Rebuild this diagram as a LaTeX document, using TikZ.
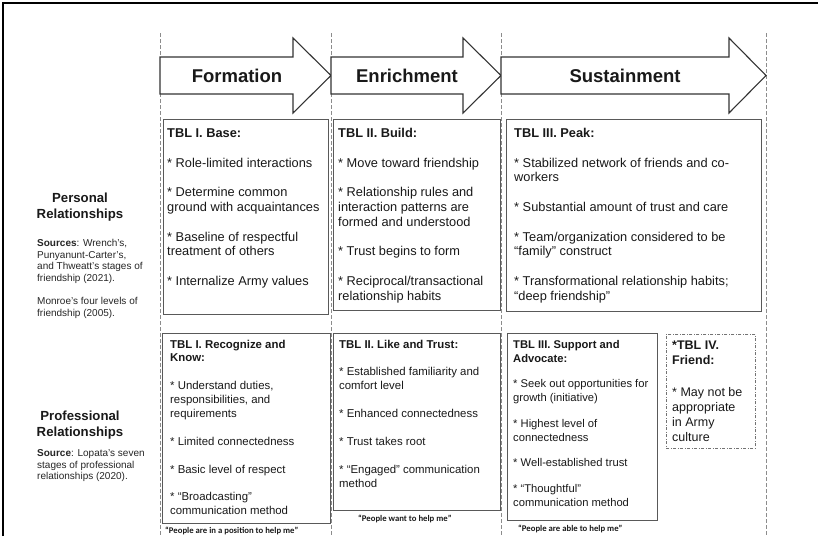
\documentclass[tikz,border=0pt]{standalone}
\usepackage{fontspec}
\setmainfont{Liberation Sans}
\newfontfamily\capfont{Carlito}
% line pitch of the two rows of panels
\newcommand\perskip{14.8pt}
\newcommand\proskip{13.9pt}
\newcommand\paneltext[2]{\parbox[t]{#1}{\raggedright #2}}
\begin{document}
\begin{tikzpicture}[x=1pt,y=-1pt,
  frame/.style={line width=2.4pt, black},
  guide/.style={draw=black!45, dash pattern=on 4pt off 2pt, line width=0.8pt},
  phase/.style={draw=black!80, line width=1.1pt, fill=white, line join=miter},
  phasetitle/.style={font=\fontsize{18.5}{20}\selectfont\bfseries, text=black!90, inner sep=0pt},
  panel/.style={draw=black!65, line width=1.1pt, inner sep=0pt, anchor=north west},
  friendpanel/.style={draw=black!55, line width=0.8pt, dash pattern=on 3pt off 1.5pt on 1pt off 1.5pt, inner sep=0pt, anchor=north west},
  pers/.style={anchor=base west, inner sep=0pt, text=black!90, font=\fontsize{12.8}{14.8}\selectfont},
  prof/.style={anchor=base west, inner sep=0pt, text=black!90, font=\fontsize{11.4}{13.9}\selectfont},
  rowtitle/.style={anchor=base, inner sep=0pt, text=black!90, font=\fontsize{13.2}{16}\selectfont\bfseries},
  source/.style={anchor=base west, inner sep=0pt, text=black!85, font=\fontsize{10}{11.6}\selectfont},
  saying/.style={anchor=base west, inner sep=0pt, text=black!90, font=\capfont\bfseries\fontsize{8.7}{10}\selectfont}]
\useasboundingbox (0,0) rectangle (818,536);
\fill[white] (0,0) rectangle (818,536);

% outer frame (top and left edges)
\draw[frame] (3.2,536) -- (3.2,3.2) -- (818,3.2);

% phase boundaries
\foreach \gx in {160,331,501,766}
  \draw[guide] (\gx,33) -- (\gx,536);

% phase arrows
\draw[phase] (160,57) -- (293,57) -- (293,38) -- (331,75.5) -- (293,113) -- (293,94) -- (160,94) -- cycle;
\draw[phase] (331,57) -- (463,57) -- (463,38) -- (501,75.5) -- (463,113) -- (463,94) -- (331,94) -- cycle;
\draw[phase] (501,57) -- (729,57) -- (729,38) -- (766,75.5) -- (729,113) -- (729,94) -- (501,94) -- cycle;
\node[phasetitle] (formation) at (237,76) {Formation};
\node[phasetitle] (enrichment) at (407,76) {Enrichment};
\node[phasetitle] (sustainment) at (625,76) {Sustainment};

% personal relationships row
\node[panel, minimum width=165pt, minimum height=195pt] (p1) at (163,119) {};
\node[panel, minimum width=167pt, minimum height=191pt] (p2) at (333,119) {};
\node[panel, minimum width=255pt, minimum height=192pt] (p3) at (506,119) {};

\node[pers] (p1text) at (167,137.5) {\paneltext{160pt}{\textbf{TBL I. Base:}\\[\perskip]
* Role-limited interactions\\[\perskip]
* Determine common\\ground with acquaintances\\[\perskip]
* Baseline of respectful\\treatment of others\\[\perskip]
* Internalize Army values}};

\node[pers] (p2text) at (338,137.5) {\paneltext{160pt}{\textbf{TBL II. Build:}\\[\perskip]
* Move toward friendship\\[\perskip]
* Relationship rules and\\interaction patterns are\\formed and understood\\[\perskip]
* Trust begins to form\\[\perskip]
* Reciprocal/transactional\\relationship habits}};

\node[pers] (p3text) at (514,137.5) {\paneltext{245pt}{\textbf{TBL III. Peak:}\\[\perskip]
* Stabilized network of friends and co-\\workers\\[\perskip]
* Substantial amount of trust and care\\[\perskip]
* Team/organization considered to be\\“family” construct\\[\perskip]
* Transformational relationship habits;\\“deep friendship”}};

\node[rowtitle] (perstitle) at (80,202.5) {\parbox[t]{120pt}{\centering Personal\\Relationships}};
\node[source] (perssource) at (37,246.5) {\paneltext{130pt}{\textbf{Sources}: Wrench’s,\\Punyanunt-Carter’s,\\and Thweatt’s stages of\\friendship (2021).\\[11.6pt]
Monroe’s four levels of\\friendship (2005).}};

% professional relationships row
\node[panel, minimum width=168pt, minimum height=190pt] (q1) at (162,333) {};
\node[panel, minimum width=167pt, minimum height=177pt] (q2) at (333,333) {};
\node[panel, minimum width=150pt, minimum height=187pt] (q3) at (507,333) {};
\node[friendpanel, minimum width=89pt, minimum height=114pt] (q4) at (666,334) {};

\node[prof] (q1text) at (170,348) {\paneltext{160pt}{\textbf{TBL I. Recognize and}\\\textbf{Know:}\\[\proskip]
* Understand duties,\\responsibilities, and\\requirements\\[\proskip]
* Limited connectedness\\[\proskip]
* Basic level of respect\\[\proskip]
* “Broadcasting”\\communication method}};

\node[prof] (q2text) at (339,348) {\paneltext{160pt}{\textbf{TBL II. Like and Trust:}\\[\proskip]
* Established familiarity and\\comfort level\\[\proskip]
* Enhanced connectedness\\[\proskip]
* Trust takes root\\[\proskip]
* “Engaged” communication\\method}};

\node[prof, font=\fontsize{11.2}{14}\selectfont] (q3text) at (513,348) {\paneltext{145pt}{\textbf{TBL III. Support and}\\\textbf{Advocate:}\\[11.5pt]
* Seek out opportunities for\\growth (initiative)\\[11.5pt]
* Highest level of\\connectedness\\[11.5pt]
* Well-established trust\\[11.5pt]
* “Thoughtful”\\communication method}};

\node[pers, font=\fontsize{12.5}{15}\selectfont] (q4text) at (672,349.5) {\paneltext{80pt}{\textbf{*TBL IV.}\\\textbf{Friend:}\\[17pt]
* May not be\\appropriate\\in Army\\culture}};

\node[rowtitle] (proftitle) at (80,420.5) {\parbox[t]{120pt}{\centering Professional\\Relationships}};
\node[source] (profsource) at (37,456.5) {\paneltext{130pt}{\textbf{Source}: Lopata’s seven\\stages of professional\\relationships (2020).}};

% sayings under the professional panels
\node[saying] (say1) at (165,533) {“People are in a position to help me”};
\node[saying] (say2) at (358,521) {“People want to help me”};
\node[saying] (say3) at (518,531) {“People are able to help me”};
\end{tikzpicture}
\end{document}
